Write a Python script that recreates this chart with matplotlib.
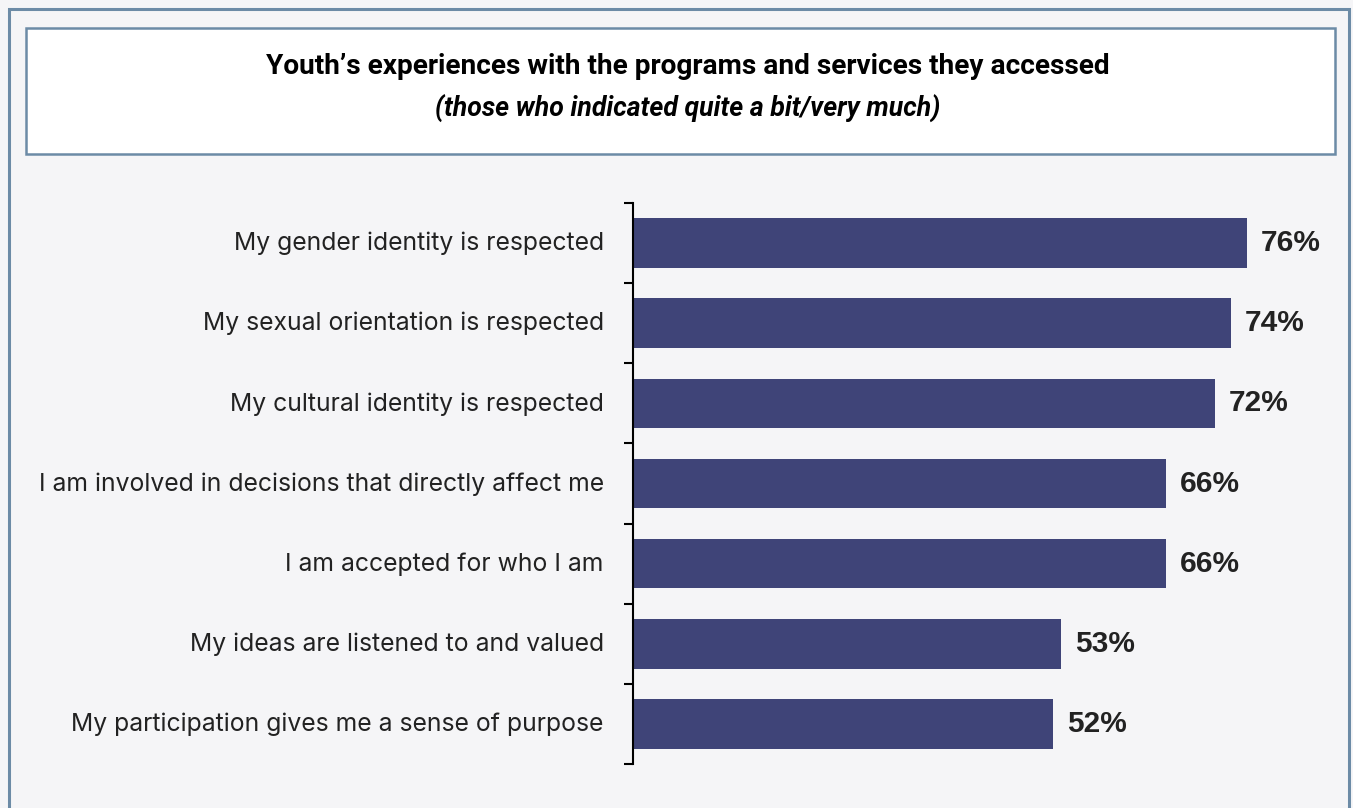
import matplotlib
matplotlib.use("Agg")
import matplotlib.pyplot as plt
from matplotlib.patches import Rectangle
import numpy as np

categories = [
    "My gender identity is respected",
    "My sexual orientation is respected",
    "My cultural identity is respected",
    "I am involved in decisions that directly affect me",
    "I am accepted for who I am",
    "My ideas are listened to and valued",
    "My participation gives me a sense of purpose",
]
values = [76, 74, 72, 66, 66, 53, 52]

title = "Youth\u2019s experiences with the programs and services they accessed"
subtitle = "(those who indicated quite a bit/very much)"

bg = "#f5f5f7"
frame = "#6c8ba6"
bar_color = "#3f4478"
text_color = "#222222"

W, H = 1353, 808
fig = plt.figure(figsize=(W / 100, H / 100), dpi=100)
fig.patch.set_facecolor(bg)

def px(x0, y0, x1, y1):
    # pixel box (top-left origin) -> figure fraction rect
    return (x0 / W, 1 - y1 / H, (x1 - x0) / W, (y1 - y0) / H)

# outer frame, open at the bottom edge
x, y, w, h = px(9, 9, 1349, 830)
fig.patches.append(Rectangle((x, y), w, h, transform=fig.transFigure,
                             facecolor="none", edgecolor=frame, lw=2.2))
# title box
x, y, w, h = px(26, 28, 1335, 154)
fig.patches.append(Rectangle((x, y), w, h, transform=fig.transFigure,
                             facecolor="white", edgecolor=frame, lw=1.8))

fig.text(688 / W, 1 - 67 / H, title, ha="center", va="center",
         fontsize=20.2, fontweight="bold", family="Roboto", color="black")
fig.text(688 / W, 1 - 109 / H, subtitle, ha="center", va="center",
         fontsize=19.2, fontweight="bold", style="italic", family="Roboto",
         color="black")

ax = fig.add_axes(px(633, 203, 1336, 764))
ax.set_facecolor(bg)
pos = np.arange(len(categories))
ax.barh(pos, values, height=0.62, color=bar_color)
ax.set_xlim(0, 87)
ax.set_ylim(len(categories) - 0.5, -0.5)

for sp in ["top", "right", "bottom"]:
    ax.spines[sp].set_visible(False)
ax.spines["left"].set_linewidth(1.5)
ax.spines["left"].set_color("black")
ax.set_xticks([])

# boundary ticks between categories, labels on the centres (nudged up a bit)
ax.set_yticks(np.arange(-0.5, len(categories), 1.0))
ax.set_yticklabels([])
ax.tick_params(axis="y", which="major", length=6.5, width=1.5, color="black")
ax.set_yticks(pos - 0.025, minor=True)
ax.set_yticklabels(categories, minor=True, fontsize=17.8, family="Inter",
                   color=text_color)
ax.tick_params(axis="y", which="minor", length=0, pad=21)

for p, v in zip(pos, values):
    ax.text(v + 1.7, p, f"{v}%", va="center", ha="left", fontsize=21.5,
            fontweight="bold", family="Liberation Sans", color=text_color)

fig.savefig("out.png", dpi=100, facecolor=bg)
